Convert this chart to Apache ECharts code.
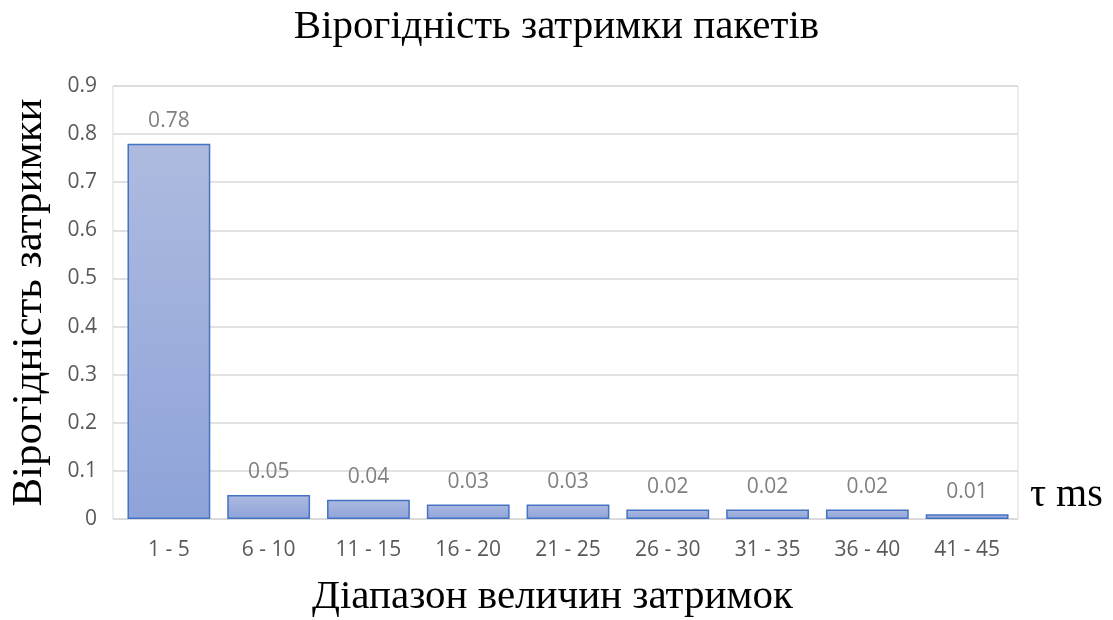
<!DOCTYPE html>
<html><head><meta charset="utf-8">
<script src="https://cdn.jsdelivr.net/npm/echarts@6/dist/echarts.min.js"></script>
<style>html,body{margin:0;padding:0;background:#fff}#c{width:1113px;height:620px}</style>
</head><body><div id="c"></div>
<script>
const categories = ['1 - 5','6 - 10','11 - 15','16 - 20','21 - 25','26 - 30','31 - 35','36 - 40','41 - 45'];
const values = [0.78, 0.05, 0.04, 0.03, 0.03, 0.02, 0.02, 0.02, 0.01];
const titleText = 'Вірогідність затримки пакетів';
const yName = 'Вірогідність затримки';
const xName = 'Діапазон величин затримок';
const unitText = 'τ ms';

const chart = echarts.init(document.getElementById('c'), null, {renderer:'canvas'});
chart.setOption({
  animation:false,
  backgroundColor:'#fff',
  title:[
    {text:titleText,left:'center',top:2,textStyle:{fontFamily:'Liberation Serif',fontSize:41,fontWeight:'normal',color:'#000'}},
    {text:xName,left:312,top:577,padding:0,textStyle:{fontFamily:'Liberation Serif',fontSize:41,fontWeight:'normal',color:'#000'}}
  ],
  grid:[
    {left:111,right:95,top:86,bottom:101,show:true,borderColor:'#d9d9d9',borderWidth:1},
    {left:119,right:96,top:86,bottom:101}
  ],
  xAxis:[
    {gridIndex:0,type:'value',min:0,max:1,show:false},
    {gridIndex:1,type:'category',data:categories,
      axisLine:{show:true,lineStyle:{color:'#d9d9d9'}},axisTick:{show:false},
      axisLabel:{fontFamily:'Open Sans',fontSize:21,color:'#595959',margin:21}}
  ],
  yAxis:[
    {gridIndex:0,type:'value',min:0,max:0.9,interval:0.1,
      name:yName,nameLocation:'middle',nameGap:62,nameRotate:90,
      nameTextStyle:{fontFamily:'Liberation Serif',fontSize:43,color:'#000'},
      axisLine:{show:false},axisTick:{show:false},
      splitLine:{lineStyle:{color:'#d9d9d9',width:1.5}},
      axisLabel:{fontFamily:'Open Sans',fontSize:21,color:'#595959',margin:16,
        formatter:v=>v===0?'0':v.toFixed(1)}},
    {gridIndex:1,type:'value',min:0,max:0.9,interval:0.1,show:false,splitLine:{show:false}}
  ],
  series:[{type:'bar',xAxisIndex:1,yAxisIndex:1,data:values,barCategoryGap:'17%',
    itemStyle:{color:new echarts.graphic.LinearGradient(0,0,0,1,[{offset:0,color:'#aebbe0'},{offset:1,color:'#8ea3d9'}]),
      borderColor:'#4472c4',borderWidth:1.5},
    label:{show:true,position:'top',distance:12,fontFamily:'Open Sans',fontSize:21,color:'#808080',
      formatter:p=>String(p.value)}}],
  graphic:[{type:'text',left:1030,top:475,style:{text:unitText,fontFamily:'Liberation Serif',fontSize:40,fill:'#000'}}]
});
</script></body></html>
